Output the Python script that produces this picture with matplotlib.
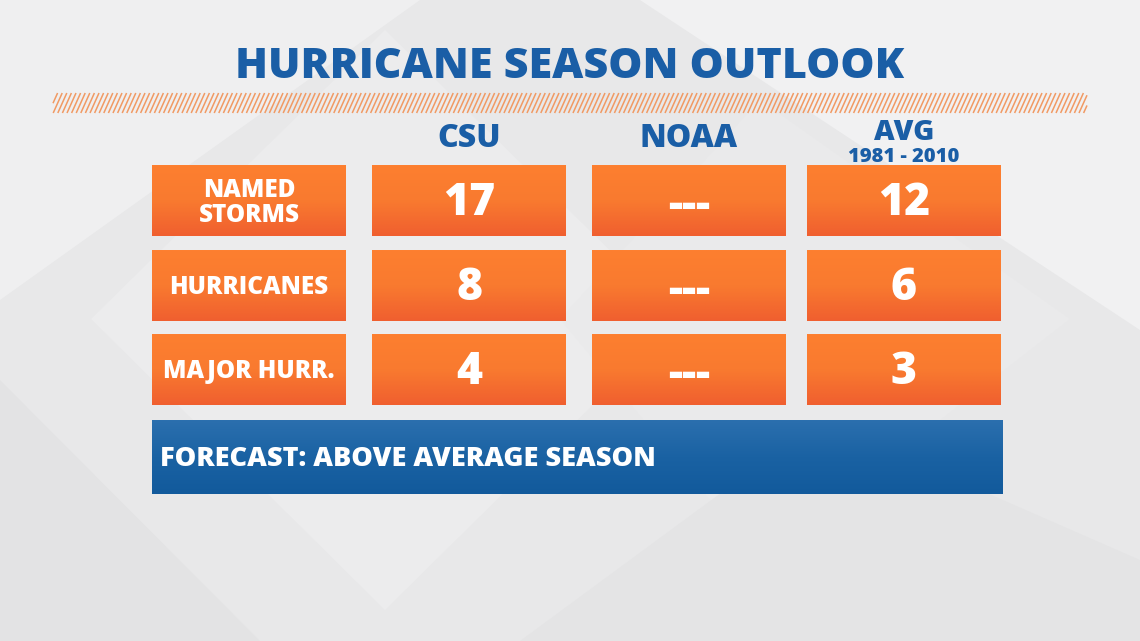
import numpy as np
import matplotlib
matplotlib.use("Agg")
import matplotlib.pyplot as plt
from matplotlib.patches import Rectangle, Polygon
from matplotlib.collections import LineCollection
from matplotlib.colors import LinearSegmentedColormap

# ---- data ----
title = "HURRICANE SEASON OUTLOOK"
col_headers = ["CSU", "NOAA", "AVG"]
avg_subheader = "1981 - 2010"
row_labels = ["NAMED\nSTORMS", "HURRICANES", "MAJOR HURR."]
csu_values = ["17", "8", "4"]
noaa_values = ["---", "---", "---"]
avg_values = ["12", "6", "3"]
footer = "FORECAST: ABOVE AVERAGE SEASON"

plt.rcParams['font.family'] = ['Open Sans', 'DejaVu Sans']
FW = 'heavy'

W, H = 1140, 641
fig = plt.figure(figsize=(W / 100, H / 100), dpi=100)
ax = fig.add_axes([0, 0, 1, 1])
ax.set_xlim(0, W)
ax.set_ylim(H, 0)
ax.axis('off')

# background
ax.add_patch(Rectangle((0, 0), W, H, color='#e8e8e9', zorder=0))
bg_shapes = [
    ([(0, 0), (420, 0), (0, 300)], '#efeff0'),
    ([(385, 30), (680, 319), (385, 610), (91, 319)], '#ececed'),
    ([(640, 0), (1140, 0), (1140, 330)], '#f1f1f2'),
    ([(760, 100), (1070, 319), (760, 560), (560, 319)], '#eaeaeb'),
    ([(520, 641), (820, 420), (1140, 560), (1140, 641)], '#e4e4e5'),
    ([(0, 380), (260, 641), (0, 641)], '#e3e3e4'),
]
for pts, c in bg_shapes:
    ax.add_patch(Polygon(pts, closed=True, color=c, lw=0, zorder=0.5))

blue = '#1a5ea6'

# title
ax.text(570, 67, title, ha='center', va='center', fontsize=31,
        fontweight=FW, color=blue, zorder=5)

# hatch stripe (segments clipped to the stripe rectangle)
sx0, sx1, sy0, sy1 = 53, 1087, 93, 113
dx, slant = 4.6, 9.0
segs = []
x = sx0 - slant
while x < sx1:
    xa, ya, xb, yb = x, sy1, x + slant, sy0
    if xa < sx0:
        t = (sx0 - xa) / slant
        xa, ya = sx0, sy1 + t * (sy0 - sy1)
    if xb > sx1:
        t = (sx1 - x) / slant
        xb, yb = sx1, sy1 + t * (sy0 - sy1)
    if xb > xa:
        segs.append([(xa, ya), (xb, yb)])
    x += dx
ax.add_collection(LineCollection(segs, colors='#f19a64', linewidths=1.1, zorder=3))

# column geometry
col_x = [(152, 346), (372, 566), (592, 786), (807, 1001)]
row_y = [(165, 236), (250, 321), (334, 405)]

grad = np.linspace(0, 1, 64)[:, None]
ocmap = LinearSegmentedColormap.from_list('o', ['#fd7f30', '#f97a2f', '#f05f2f'])
bcmap = LinearSegmentedColormap.from_list('b', ['#2b6fae', '#1a62a3', '#125a9c'])


def grad_box(x0, x1, y0, y1, cmap):
    ax.imshow(grad, extent=(x0, x1, y1, y0), cmap=cmap, aspect='auto',
              interpolation='bilinear', zorder=2)


ax.text(np.mean(col_x[1]), 139, col_headers[0], ha='center', va='center',
        fontsize=23, fontweight=FW, color=blue, zorder=5)
ax.text(np.mean(col_x[2]), 139, col_headers[1], ha='center', va='center',
        fontsize=23, fontweight=FW, color=blue, zorder=5)
ax.text(np.mean(col_x[3]), 139.5, col_headers[2], ha='center', va='baseline',
        fontsize=20.5, fontweight=FW, color=blue, zorder=5)
ax.text(np.mean(col_x[3]), 147, avg_subheader, ha='center', va='top',
        fontsize=14.5, fontweight=FW, color=blue, zorder=5)

columns = [row_labels, csu_values, noaa_values, avg_values]
for ci, (x0, x1) in enumerate(col_x):
    for ri, (y0, y1) in enumerate(row_y):
        grad_box(x0, x1, y0, y1, ocmap)
        txt = columns[ci][ri]
        cx, cy = (x0 + x1) / 2, (y0 + y1) / 2
        if ci == 0:
            ax.text(cx, cy + 2.5, txt, ha='center', va='center', fontsize=17.5,
                    fontweight=FW, color='white', linespacing=1.05, zorder=5)
        elif txt == '---':
            ax.text(cx, cy + 6, txt, ha='center', va='center', fontsize=32,
                    fontweight=FW, color='white', zorder=5)
        else:
            ax.text(cx, cy + 3, txt, ha='center', va='center', fontsize=32,
                    fontweight=FW, color='white', zorder=5)

# footer bar
grad_box(152, 1003, 420, 494, bcmap)
ax.text(160, 459, footer, ha='left', va='center', fontsize=19.5,
        fontweight=FW, color='white', zorder=5)

fig.savefig('out.png', dpi=100)
